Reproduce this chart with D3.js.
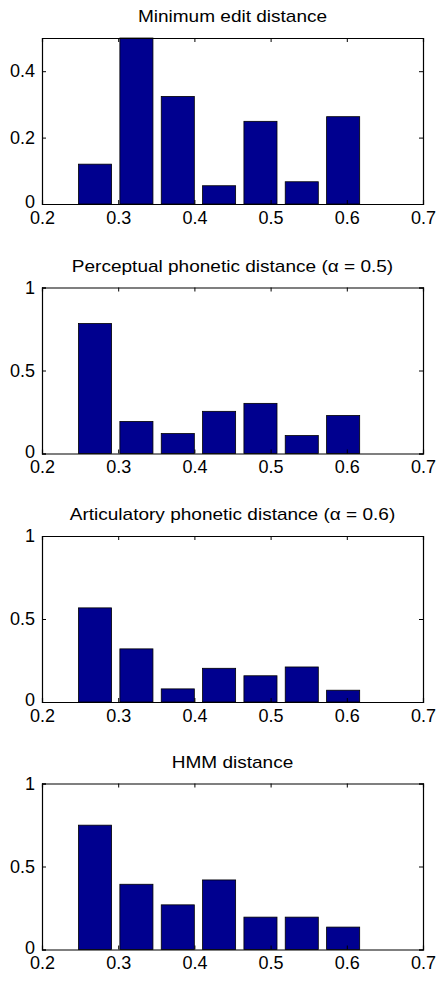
<!DOCTYPE html>
<html>
<head>
<meta charset="utf-8">
<script src="https://cdn.jsdelivr.net/npm/d3@7"></script>
<style>
  body { margin: 0; background: #fff; }
  svg text { font-family: "Liberation Sans", Arial, sans-serif; fill: #000; }
</style>
</head>
<body>
<div id="chart"></div>
<script>
// histogram bin centres (shared by all panels)
const binCenters = [0.2696, 0.3239, 0.3782, 0.4324, 0.4867, 0.5409, 0.5952];
const binWidth = 0.8 * 0.05425;

const titles = [
    'Minimum edit distance',
    'Perceptual phonetic distance (α = 0.5)',
    'Articulatory phonetic distance (α = 0.6)',
    'HMM distance'
];

const minEdit = [0.12, 0.5, 0.324, 0.055, 0.249, 0.067, 0.263];
const perceptual = [0.783, 0.193, 0.12, 0.254, 0.302, 0.108, 0.229];
const articulatory = [0.567, 0.32, 0.079, 0.203, 0.158, 0.211, 0.071];
const hmm = [0.749, 0.393, 0.269, 0.419, 0.195, 0.195, 0.135];

const seriesList = [minEdit, perceptual, articulatory, hmm];
const yMaxes = [0.5, 1, 1, 1];
const yTickLists = [[0, 0.2, 0.4], [0, 0.5, 1], [0, 0.5, 1], [0, 0.5, 1]];
const xTicks = [0.2, 0.3, 0.4, 0.5, 0.6, 0.7];

const width = 438, height = 981;
const left = 42, right = 423;
const panelTops = [38, 287.5, 536, 783.5];
const panelH = 166;

const svg = d3.select('#chart').append('svg')
    .attr('width', width)
    .attr('height', height);

const xScale = d3.scaleLinear().domain([0.2, 0.7]).range([left, right]);
const fmt = d => d === 0 ? '0' : d === 1 ? '1' : d3.format('.1f')(d);

seriesList.forEach((values, i) => {
    const top = panelTops[i];
    const yScale = d3.scaleLinear().domain([0, yMaxes[i]]).range([top + panelH, top]);
    const g = svg.append('g');

    // bars
    g.selectAll('rect.bar')
        .data(values)
        .join('rect')
        .attr('class', 'bar')
        .attr('x', (d, j) => xScale(binCenters[j] - binWidth / 2))
        .attr('width', (d, j) => xScale(binCenters[j] + binWidth / 2) - xScale(binCenters[j] - binWidth / 2))
        .attr('y', d => yScale(Math.min(d, yMaxes[i])))
        .attr('height', d => yScale(0) - yScale(Math.min(d, yMaxes[i])))
        .attr('fill', '#00008f')
        .attr('stroke', '#000')
        .attr('stroke-width', 0.8);

    // axes: ticks inside, like matlab
    const xAxisB = d3.axisBottom(xScale).tickValues(xTicks).tickSize(-4).tickPadding(7).tickFormat(fmt);
    const xAxisT = d3.axisTop(xScale).tickValues(xTicks).tickSize(-4).tickFormat('');
    const yAxisL = d3.axisLeft(yScale).tickValues(yTickLists[i]).tickSize(-4).tickPadding(7).tickFormat(fmt);
    const yAxisR = d3.axisRight(yScale).tickValues(yTickLists[i]).tickSize(-4).tickFormat('');

    const axes = [
        g.append('g').attr('transform', `translate(0,${top + panelH})`).call(xAxisB),
        g.append('g').attr('transform', `translate(0,${top})`).call(xAxisT),
        g.append('g').attr('transform', `translate(${left},0)`).call(yAxisL),
        g.append('g').attr('transform', `translate(${right},0)`).call(yAxisR)
    ];
    axes.forEach(a => {
        a.select('.domain').attr('stroke', '#000').attr('stroke-width', 1.2);
        a.selectAll('.tick line').attr('stroke', '#000');
        a.selectAll('text').style('font-size', '18px').attr('fill', '#000');
    });

    // the "0" y label sits just above the x labels, nudge it up a touch
    axes[2].selectAll('.tick').filter(d => d === 0).select('text').attr('dy', '0.2em');

    // title, slightly wide like the original rendering
    const cx = (left + right) / 2;
    g.append('text')
        .attr('transform', `translate(${cx},${top - 16}) scale(1.12,1)`)
        .attr('text-anchor', 'middle')
        .style('font-size', '17px')
        .text(titles[i]);
});
</script>
</body>
</html>
